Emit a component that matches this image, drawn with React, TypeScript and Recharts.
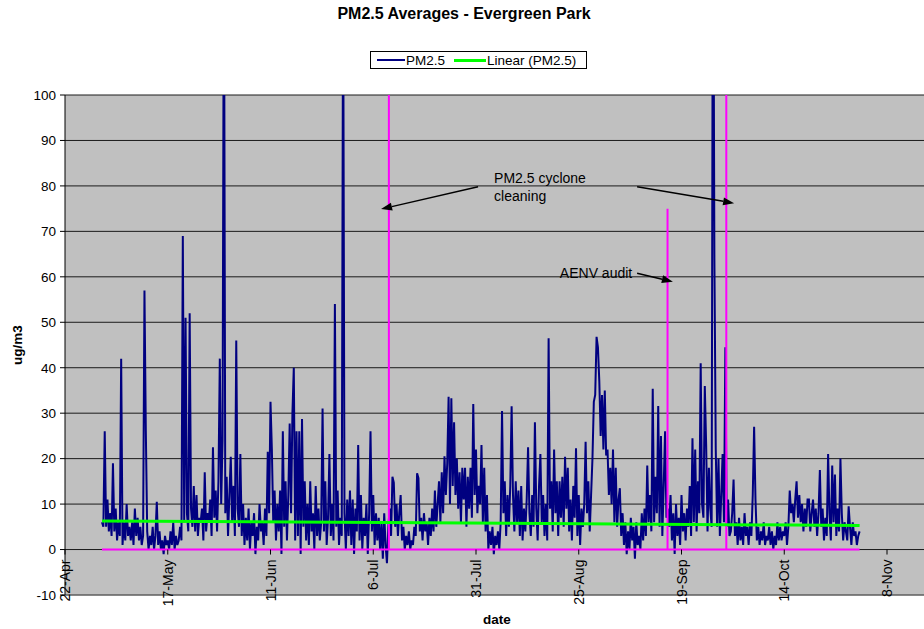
import {
  LineChart,
  Line,
  XAxis,
  YAxis,
  CartesianGrid,
  ReferenceLine,
  ReferenceDot,
} from 'recharts';

// days are counted from 22-Apr (day 0); PM2.5 readings every 8 hours
const tickDays = [0, 25, 50, 75, 100, 125, 150, 175, 200];
const tickLabels = ['22-Apr', '17-May', '11-Jun', '6-Jul', '31-Jul', '25-Aug', '19-Sep', '14-Oct', '8-Nov'];
const yTicks = [-10, 0, 10, 20, 30, 40, 50, 60, 70, 80, 90, 100];

const mayStart = 9;
const may = [
  6, 5, 26, 5, 11, 4, 8, 3, 19, 4, 9, 2, 6, 3, 42, 1, 6, 2, 10, 3, 5, 2, 6, 1,
  9, 3, 7, 2, 5, 1, 3, 57, 26, 4, 0, 3, 1, 5, 0, 3, 10.5, 1, 4, 0, 2, -1, 3, 1,
  2, 0, 4, 1, 6, 0, 3, 1, 2, 5, 2, 69, 6, 51, 8, 4, 52, 9, 5, 14, 4, 12, 3, 7,
  6, 9, 2, 17, 4, 8, 6, 11, 3, 22.5, 7, 13, 4, 15, 42, 10, 24, 140, 8, 16, 3,
];
const junStart = 40;
const jun = [
  12, 20.4, 6, 14, 3, 46, 9, 5, 21, 3, 10, 1, 7, 2, 9, 0, 6, 3, 8, -1, 5, 2, 10, 4,
  6, 1, 9, 3, 21.5, 8, 32.5, 22, 6, 13, 2, 10, 4, 13, -1, 26, 5, 15, 2, 12, 27.7,
  8, 30, 40, 2, 26, 3, 26, -1, 28.7, 5, 15, 2, 10, 1, 15, 4, 8, 0, 14, 3, 9, 2, 6, 31,
  4, 15, 1, 7, 21, 3, 10, 2, 54, 5, 13, 1, 7, 3, 130, 8, 0, 11, 3, 13, 1,
];
const julStart = 70;
const jul = [
  11, -1, 9, 4, 23, 2, 12, 0, 7, 3, 10, -1, 8, 26, 4, 12, 1, 8, 2, 7, 0, 6, -2, 8,
  1, -3, 5, 9, 3, 16, 14.7, 5, 10, 3, 8, 12, 2, 5, 0, 3, 1, 4, 0, 2, 1, 5, 3, 16.8,
  15.7, 4, 7, 2, 8, 4, 6, 1, 7, 3, 9, 4, 13, 5, 10, 15, 6, 17, 8, 20.5, 12, 19, 33.6, 10,
  33.3, 14, 28, 12, 20, 9, 17, 6, 18, 11, 18, 5, 16, 9, 18, 7, 32, 12, 22, 8, 14,
];
const augStart = 101;
const aug = [
  10, 23, 6, 18, 4, 12, 0, 4, 1, 5, -1, 3, 1, 4, 0, 6, 30.5, 8, 15, 3, 12, 5, 14, 31.5,
  12, 4, 15, 6, 13, 3, 14, 2, 9, 4, 11, 22.5, 8, 3, 12, 5, 28, 9, 2, 14, 21, 6, 12, 3,
  10, 2, 46.5, 9, 15, 4, 22, 8, 15, 3, 15, 7, 16, 5, 20.4, 9, 18, 4, 11, 2, 14, 7, 22.3, 3,
  12, 1, 9, 5, 10, 23.7, 8, 15, 4, 12, 20, 32.5, 34, 46.8, 44.5, 37, 25, 34, 22, 35, 20.7,
];
const sepStart = 132;
const sep = [
  22, 12, 18, 10, 22, 6, 18, 5, 11, 13.5, 3, 8, 1, 6, -1, 4, 0, 7, 2, 5, -2, 6, 1, 3,
  0, 8, 2, 9, 3, 18.5, 6, 12, 4, 35.4, 6, 16, 8, 31.6, 5, 25, 3, 14, 26, 7, 9, 5, 12, 2,
  8, -1, 10, 3, 7, 1, 12, 4, 8, 2, 9, 5, 14, 3, 24.5, 6, 22, 4, 15, 8, 41, 10, 7, 36,
  23, 4, 18, 9, 5, 160, 64, 22, 5, 20, 3, 12, 21, 6, 44.5, 5, 11, 3,
];
const octStart = 162;
const oct = [
  4, 8, 15.4, 3, 6, 1, 7, 2, 5, 1, 8, 3, 5, 1, 6, 3, 12, 27, 11, 2, 5, 1, 4, 2,
  6, 1, 3, 2, 5, 1, 4, 0, 3, 1, 6, 2, 5, 2, 4, 3, 6, 1, 5, 13, 8, 10, 6, 11,
  15, 7, 12, 6, 10, 4, 9, 5, 11, 11, 4, 8, 11, 5, 9, 3, 8, 17.5, 5, 9, 2, 7, 3, 21,
  8, 2, 18.5, 6, 16.5, 3, 9, 4, 20, 8, 2, 6, 4, 2, 9.5, 5, 1, 6, 3, 4, 1, 3, 4,
];

// magenta event markers (cyclone cleaning, AENV audit)
const eventDays = [78.8, 146.6, 160.9];
const eventPeaks = [100, 75, 100];

// linear trend of PM2.5
const trendStart = 6.3;
const trendEnd = 5.3;

const blocks: [number, number[]][] = [
  [mayStart, may], [junStart, jun], [julStart, jul], [augStart, aug], [sepStart, sep], [octStart, oct],
];
const pmData = blocks.flatMap(([start, vals]) => vals.map((v, i) => ({ d: start + i / 3, v })));
const firstDay = pmData[0].d;
const lastDay = pmData[pmData.length - 1].d;

const eventData = [{ d: firstDay, v: 0 }];
eventDays.forEach((d, i) => {
  eventData.push({ d, v: 0 }, { d, v: eventPeaks[i] }, { d, v: 0 });
});
eventData.push({ d: lastDay, v: 0 });

const trendData = [
  { d: firstDay, v: trendStart },
  { d: lastDay, v: trendEnd },
];

const FONT = '"Liberation Sans", Arial, sans-serif';
const PLOT_TOP = 95;
const PLOT_H = 500;
const ZERO_Y = PLOT_TOP + (PLOT_H * 100) / 110;

const DateTick = (props: any) => {
  const { x, payload } = props;
  const idx = tickDays.indexOf(payload.value);
  return (
    <g>
      <line x1={x} x2={x} y1={ZERO_Y} y2={ZERO_Y + 5} stroke="#000" />
      <text
        transform={`translate(${x + 5},${ZERO_Y + 10}) rotate(-90)`}
        textAnchor="end"
        fontSize={14}
        fontFamily={FONT}
        fill="#000"
      >
        {tickLabels[idx]}
      </text>
    </g>
  );
};

const Arrow = (p: any) => {
  const { x1, y1, x2, y2 } = p;
  const a = Math.atan2(y2 - y1, x2 - x1);
  const L = 11;
  const W = 4;
  const bx = x2 - L * Math.cos(a);
  const by = y2 - L * Math.sin(a);
  const pts = `${x2},${y2} ${bx + W * Math.sin(a)},${by - W * Math.cos(a)} ${bx - W * Math.sin(a)},${by + W * Math.cos(a)}`;
  return (
    <g>
      <line x1={x1} y1={y1} x2={bx} y2={by} stroke="#000" strokeWidth={1.5} />
      <polygon points={pts} fill="#000" />
    </g>
  );
};

const Note = (lines: string[]) => (p: any) => (
  <text x={p.cx} y={p.cy} fontSize={14} fontFamily={FONT} fill="#000">
    {lines.map((t, i) => (
      <tspan key={i} x={p.cx} dy={i === 0 ? 0 : 17.5}>
        {t}
      </tspan>
    ))}
  </text>
);

const App = () => {
  return (
    <div style={{ position: 'absolute', left: 0, top: 0, width: 924, height: 629, background: '#fff', fontFamily: FONT }}>
      <div style={{ position: 'absolute', top: 5, left: 2, width: 924, textAlign: 'center', fontWeight: 'bold', fontSize: 16 }}>
        PM2.5 Averages - Evergreen Park
      </div>
      <div
        style={{
          position: 'absolute', left: 370, top: 51, width: 215, height: 16, border: '1px solid #000',
          fontSize: 13.5, display: 'flex', alignItems: 'center', background: '#fff',
        }}
      >
        <span style={{ display: 'inline-block', width: 28, height: 2, background: '#000080', marginLeft: 6 }} />
        <span style={{ marginLeft: 1 }}>PM2.5</span>
        <span style={{ display: 'inline-block', width: 32, height: 3, background: '#00FF00', marginLeft: 9 }} />
        <span style={{ marginLeft: 1 }}>Linear (PM2.5)</span>
      </div>
      <div
        style={{
          position: 'absolute', left: 17, top: 345, transform: 'translate(-50%,-50%) rotate(-90deg)',
          fontWeight: 'bold', fontSize: 13.5, whiteSpace: 'nowrap',
        }}
      >
        ug/m3
      </div>
      <div style={{ position: 'absolute', left: 497, top: 619, transform: 'translate(-50%,-50%)', fontWeight: 'bold', fontSize: 13.5 }}>
        date
      </div>
      <div style={{ position: 'absolute', left: 0, top: 0 }}>
        <LineChart width={924} height={629} margin={{ top: PLOT_TOP, right: 0, left: 0, bottom: 0 }}>
          <CartesianGrid vertical={false} stroke="#1a1a1a" fill="#C0C0C0" />
          <XAxis
            type="number"
            dataKey="d"
            domain={[0, 209]}
            ticks={tickDays}
            interval={0}
            allowDataOverflow
            height={34}
            tickLine={false}
            axisLine={{ stroke: '#808080' }}
            tick={<DateTick />}
          />
          <YAxis
            type="number"
            domain={[-10, 100]}
            ticks={yTicks}
            interval={0}
            allowDataOverflow
            width={65}
            tickSize={5}
            tickMargin={4}
            axisLine={{ stroke: '#000' }}
            tickLine={{ stroke: '#000' }}
            tick={{ fontSize: 13.5, fill: '#000', fontFamily: FONT }}
          />
          <Line data={pmData} dataKey="v" type="linear" stroke="#000080" strokeWidth={2} dot={false} isAnimationActive={false} />
          <Line data={eventData} dataKey="v" type="linear" stroke="#FF00FF" strokeWidth={2} dot={false} isAnimationActive={false} />
          <Line data={trendData} dataKey="v" type="linear" stroke="#00FF00" strokeWidth={3} dot={false} isAnimationActive={false} />
          <ReferenceLine segment={[{ x: 100.5, y: 79.8 }, { x: 76.9, y: 74.9 }]} shape={Arrow} />
          <ReferenceLine segment={[{ x: 139.2, y: 79.8 }, { x: 162.8, y: 76.2 }]} shape={Arrow} />
          <ReferenceLine segment={[{ x: 139.2, y: 60.8 }, { x: 147.9, y: 58.9 }]} shape={Arrow} />
          <ReferenceDot x={104.4} y={80.6} r={0} shape={Note(['PM2.5 cyclone', 'cleaning'])} />
          <ReferenceDot x={120.4} y={59.7} r={0} shape={Note(['AENV audit'])} />
        </LineChart>
      </div>
    </div>
  );
};

export default App;
